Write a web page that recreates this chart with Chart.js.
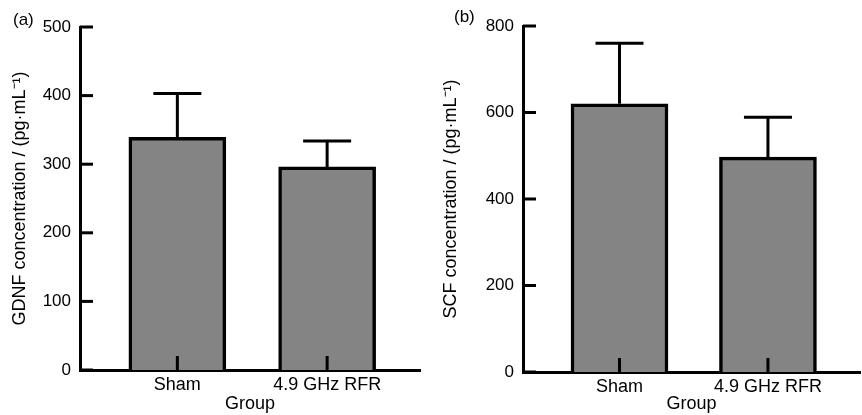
<!DOCTYPE html>
<html>
<head>
<meta charset="utf-8">
<script src="https://cdn.jsdelivr.net/npm/chart.js@4.4.1/dist/chart.umd.min.js"></script>
<style>
  body { margin: 0; background: #fff; }
  .panel { position: absolute; top: 0; width: 431px; height: 415px; }
  .tag { position: absolute; font: 17px "Liberation Sans", Arial, sans-serif; color: #000; }
</style>
</head>
<body>
<div class="panel" style="left:0"><canvas id="chartA"></canvas></div>
<div class="panel" style="left:431px"><canvas id="chartB"></canvas></div>
<div class="tag" style="left:13px;top:10px">(a)</div>
<div class="tag" style="left:454px;top:7px">(b)</div>
<script>
// grupos
const grupos = ["Sham", "4.9 GHz RFR"];

// (a) GDNF
const gdnfMedia = [339, 296];
const gdnfErro = [64, 38];
const gdnfTicks = [0, 100, 200, 300, 400, 500];

// (b) SCF
const scfMedia = [620, 497];
const scfErro = [140, 92];
const scfTicks = [0, 200, 400, 600, 800];

const fonte = '"Liberation Sans", Arial, sans-serif';

// barras de erro + marcas para dentro (estilo GraphPad)
const errorBars = {
  id: "errorBars",
  afterDatasetsDraw(chart, args, opts) {
    const ctx = chart.ctx;
    const xs = chart.scales.x;
    const ys = chart.scales.y;
    const meta = chart.getDatasetMeta(0);
    ctx.save();
    ctx.strokeStyle = "#000";
    ctx.lineWidth = 3;
    ctx.lineCap = "butt";
    meta.data.forEach((bar, i) => {
      const x = bar.x;
      const yTop = ys.getPixelForValue(opts.media[i] + opts.erro[i]);
      ctx.beginPath();
      ctx.moveTo(x, bar.y);
      ctx.lineTo(x, yTop);
      ctx.moveTo(x - 24, yTop);
      ctx.lineTo(x + 24, yTop);
      ctx.stroke();
      // marca do eixo x
      ctx.beginPath();
      ctx.moveTo(x, ys.bottom);
      ctx.lineTo(x, ys.bottom - 14);
      ctx.stroke();
    });
    // marcas do eixo y
    ys.ticks.forEach((t) => {
      const y = ys.getPixelForValue(t.value);
      ctx.beginPath();
      ctx.moveTo(xs.left, y);
      ctx.lineTo(xs.left + 13, y);
      ctx.stroke();
    });
    ctx.restore();
  },
};

function criarGrafico(id, media, erro, ticks, titulo, yLarg, xAlt, pad) {
  const ctx = document.getElementById(id).getContext("2d");
  return new Chart(ctx, {
    type: "bar",
    data: {
      datasets: [
        {
          data: media.map((v, i) => ({ x: i, y: v })),
          backgroundColor: "#848484",
          borderColor: "#000",
          borderWidth: 3.5,
          borderSkipped: "start",
          barThickness: 97,
        },
      ],
    },
    options: {
      responsive: true,
      maintainAspectRatio: false,
      animation: false,
      layout: { padding: pad },
      plugins: {
        legend: { display: false },
        tooltip: { enabled: false },
        errorBars: { media: media, erro: erro },
      },
      scales: {
        x: {
          type: "linear",
          offset: false,
          min: -0.65,
          max: 1.62,
          afterBuildTicks: (s) => {
            s.ticks = grupos.map((g, i) => ({ value: i }));
          },
          afterFit: (s) => {
            s.height = xAlt;
          },
          grid: { display: false, drawTicks: false, offset: false },
          border: { display: true, color: "#000", width: 3 },
          ticks: {
            padding: 4,
            color: "#000",
            font: { family: fonte, size: 18 },
            callback: (v) => grupos[v],
          },
          title: {
            display: true,
            text: "Group",
            color: "#000",
            font: { family: fonte, size: 18 },
            padding: { top: 0, bottom: 0 },
          },
        },
        y: {
          min: ticks[0],
          max: ticks[ticks.length - 1],
          afterBuildTicks: (s) => {
            s.ticks = ticks.map((v) => ({ value: v }));
          },
          afterFit: (s) => {
            s.width = yLarg;
          },
          grid: { display: false, drawTicks: false },
          border: { display: true, color: "#000", width: 3 },
          ticks: {
            padding: 9,
            color: "#000",
            font: { family: fonte, size: 17 },
          },
          title: {
            display: true,
            text: titulo,
            color: "#000",
            font: { family: fonte, size: 18 },
            padding: { top: 9, bottom: 0 },
          },
        },
      },
    },
    plugins: [errorBars],
  });
}

criarGrafico("chartA", gdnfMedia, gdnfErro, gdnfTicks,
  "GDNF concentration / (pg·mL⁻¹)", 80, 45,
  { left: 0, right: 11, top: 27, bottom: 0 });

criarGrafico("chartB", scfMedia, scfErro, scfTicks,
  "SCF concentration / (pg·mL⁻¹)", 92, 43,
  { left: 0, right: 2, top: 26, bottom: 0 });
</script>
</body>
</html>
